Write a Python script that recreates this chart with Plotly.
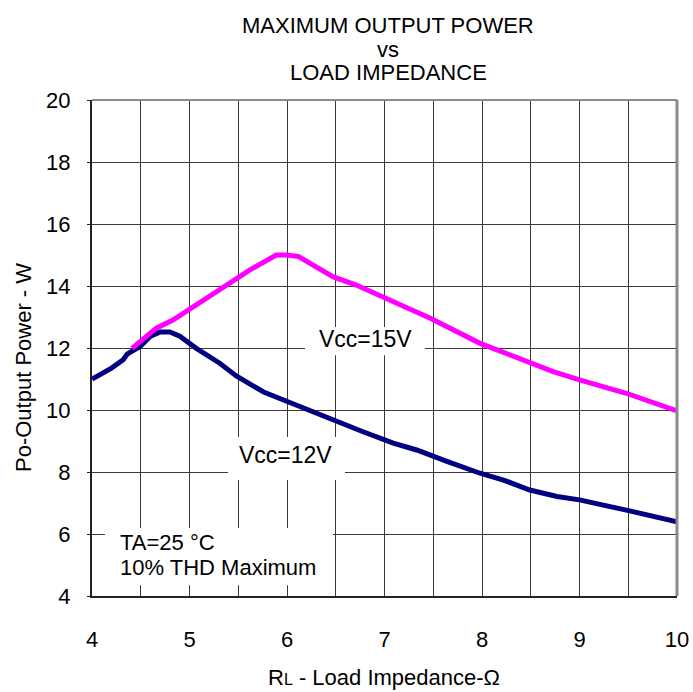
import plotly.graph_objects as go

# Vcc = 12 V curve
x12 = [4.0, 4.2, 4.32, 4.36, 4.49, 4.6, 4.7, 4.8, 4.9, 5.07, 5.31, 5.48, 5.76, 6.0, 6.24, 6.48, 6.78, 7.09, 7.33, 7.64, 7.98, 8.22, 8.49, 8.77, 9.0, 9.48, 9.75, 10.0]
y12 = [11.0, 11.35, 11.62, 11.8, 12.04, 12.38, 12.52, 12.52, 12.38, 11.99, 11.51, 11.1, 10.58, 10.27, 10.0, 9.68, 9.3, 8.93, 8.71, 8.34, 7.96, 7.74, 7.42, 7.21, 7.1, 6.77, 6.57, 6.39]

# Vcc = 15 V curve
x15 = [4.41, 4.49, 4.66, 4.83, 5.14, 5.42, 5.62, 5.89, 6.0, 6.12, 6.47, 6.71, 7.09, 7.28, 7.47, 7.98, 8.49, 8.73, 9.0, 9.48, 10.0]
y15 = [11.99, 12.2, 12.64, 12.9, 13.55, 14.14, 14.52, 15.0, 15.0, 14.95, 14.3, 14.03, 13.5, 13.23, 12.96, 12.15, 11.51, 11.24, 10.97, 10.54, 9.97]

x_ticks = [4, 5, 6, 7, 8, 9, 10]
y_ticks = [4, 6, 8, 10, 12, 14, 16, 18, 20]
title_lines = ["MAXIMUM OUTPUT POWER", "vs", "LOAD IMPEDANCE"]
x_title = "R<span style='font-size:16px'>L</span> - Load Impedance-Ω"
y_title = "Po-Output Power - W"
label15 = "Vcc=15V"
label12 = "Vcc=12V"
cond_lines = ["TA=25 °C", "10% THD Maximum"]

FONT = "Liberation Sans, Arial, sans-serif"
W, H = 693, 692
L, R, T, B = 92, 16, 100, 96
PW, PH = W - L - R, H - T - B


def px(xp):
    return (xp - L) / PW


def py(yp):
    return 1 - (yp - T) / PH


fig = go.Figure()

# white label boxes (above grid, below traces)
for (x0, x1, y0, y1) in [(6.185, 7.415, 11.77, 12.68), (5.395, 6.595, 7.74, 9.13), (4.133, 6.472, 4.35, 6.19)]:
    fig.add_shape(type="rect", xref="x", yref="y", x0=x0, x1=x1, y0=y0, y1=y1,
                  fillcolor="white", line=dict(width=0), layer="between")

fig.add_trace(go.Scatter(x=x12, y=y12, mode="lines", line=dict(color="#000080", width=5), showlegend=False))
fig.add_trace(go.Scatter(x=x15, y=y15, mode="lines", line=dict(color="#FF00FF", width=5), showlegend=False))

fig.update_layout(
    width=W, height=H,
    margin=dict(l=L, r=R, t=T, b=B, autoexpand=False),
    paper_bgcolor="white", plot_bgcolor="white",
    font=dict(family=FONT, size=22, color="black"),
    showlegend=False,
)
fig.update_xaxes(
    range=[4, 10], tickvals=x_ticks, ticktext=[str(v) for v in x_ticks],
    showgrid=True, gridcolor="#3a3a3a", gridwidth=1,
    minor=dict(dtick=0.5, showgrid=True, gridcolor="#3a3a3a", gridwidth=1),
    showline=True, linecolor="#222", linewidth=2,
    ticks="", ticklabelstandoff=23, zeroline=False, automargin=False,
    tickfont=dict(size=22),
)
fig.update_yaxes(
    range=[4, 20], tickvals=y_ticks, ticktext=[str(v) for v in y_ticks],
    showgrid=True, gridcolor="#3a3a3a", gridwidth=1,
    showline=True, linecolor="#222", linewidth=2,
    ticks="outside", ticklen=3, tickcolor="#222", ticklabelstandoff=12, zeroline=False, automargin=False,
    tickfont=dict(size=22),
)

# top/right frame in gray
fig.add_shape(type="line", xref="paper", yref="paper", x0=0, x1=1, y0=1, y1=1, line=dict(color="#8a8a8a", width=2))
fig.add_shape(type="line", xref="paper", yref="paper", x0=1, x1=1, y0=0, y1=1, line=dict(color="#8a8a8a", width=3))

# title lines
for t, yp in zip(title_lines, [25, 49, 72]):
    fig.add_annotation(text=t, xref="paper", yref="paper", x=px(388), y=py(yp),
                       showarrow=False, font=dict(size=22), xanchor="center", yanchor="middle")

# axis titles
fig.add_annotation(text=x_title, xref="paper", yref="paper", x=px(384), y=py(677),
                   showarrow=False, font=dict(size=22), xanchor="center", yanchor="middle")
fig.add_annotation(text=y_title, xref="paper", yref="paper", x=px(23), y=py(368),
                   showarrow=False, font=dict(size=22), textangle=-90, xanchor="center", yanchor="middle")

# curve labels
fig.add_annotation(text=label15, x=6.81, y=12.29, xref="x", yref="y", showarrow=False,
                   font=dict(size=23), xanchor="center", yanchor="middle")
fig.add_annotation(text=label12, x=5.98, y=8.55, xref="x", yref="y", showarrow=False,
                   font=dict(size=23), xanchor="center", yanchor="middle")
for t, yv in zip(cond_lines, [5.72, 4.93]):
    fig.add_annotation(text=t, x=4.267, y=yv, xref="x", yref="y", showarrow=False,
                       font=dict(size=22), xanchor="left", yanchor="middle")

fig.write_html("out.html", config={"displayModeBar": False},
               post_script="document.body.style.margin='0';document.body.style.overflow='hidden';")
